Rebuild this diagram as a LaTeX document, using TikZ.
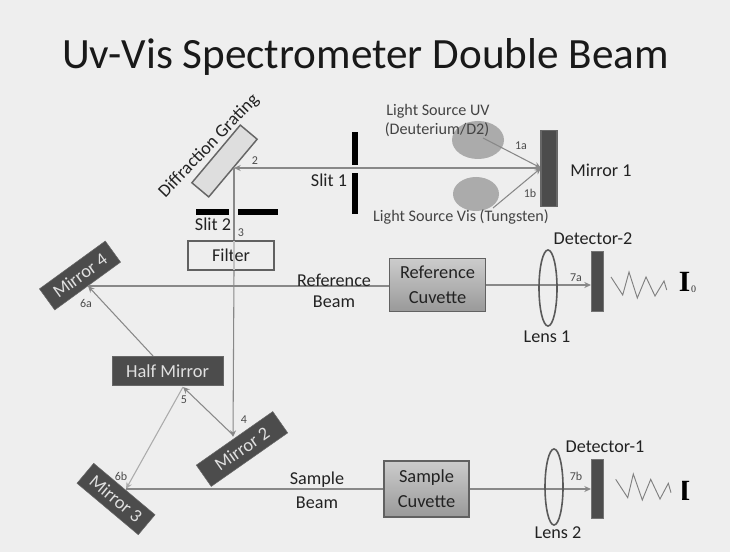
\documentclass[tikz,border=0pt]{standalone}
\usepackage{fontspec}
\setmainfont{Carlito}
\newfontfamily\serifb{Liberation Serif}
\usetikzlibrary{arrows.meta}
\definecolor{bgc}{HTML}{EEEEEE}
\definecolor{darkm}{HTML}{4C4C4C}
\definecolor{beam}{HTML}{888888}
\definecolor{txt}{HTML}{222222}
\tikzset{
 lab/.style={font=\fontsize{13.6}{15}\selectfont,text=txt,inner sep=0pt,align=center},
 labs/.style={font=\fontsize{12.1}{14}\selectfont,text=txt!85,inner sep=0pt,align=center},
 small/.style={font=\fontsize{9}{10}\selectfont,text=black!70,inner sep=0pt},
 mirror/.style={fill=darkm,draw=darkm!85,line width=.4pt,font=\fontsize{13.8}{15}\selectfont,text=white!88!black,inner sep=0pt,minimum height=19.5pt},
 detector/.style={fill=darkm,draw=black!55,line width=.8pt,inner sep=0pt,minimum width=9.5pt,minimum height=44.5pt},
 slitbar/.style={fill=black,inner sep=0pt},
 ray/.style={draw=beam,line width=.8pt,-{Stealth[length=5pt,width=4.5pt]}},
 plainray/.style={draw=beam,line width=.8pt},
 lensc/.style={draw=black!65,line width=1.2pt},
 zig/.style={draw=black!50,line width=.7pt},
 cuvette/.style={draw=black!62,line width=1.2pt,top color=black!20,bottom color=black!40,inner sep=0pt,align=center,font=\fontsize{13.8}{15.5}\selectfont,text=txt}
}
\begin{document}
\begin{tikzpicture}[x=.75pt,y=-.75pt]
\useasboundingbox (0,0) rectangle (730,552);
\fill[bgc] (0,0) rectangle (730,552);
\node[inner sep=0pt,text=black!90] (title) at (365.5,56.5) {\fontsize{32.4}{38}\selectfont Uv-Vis Spectrometer Double Beam};

% lamps
\fill[black!33] (478,140) ellipse [x radius=26,y radius=19];
\fill[black!33] (476,194) ellipse [x radius=23,y radius=17];
\coordinate (uv) at (483,138);
\coordinate (vis) at (493,208);

% named points on the mirrors
\coordinate (m1p) at (541,168);
\coordinate (gp) at (234,168);
\coordinate (m2p) at (233,437);
\coordinate (m4p) at (88,286);
\coordinate (m3p) at (126,489);
\coordinate (hbot) at (183,387);
\coordinate (htop) at (153,356);
\coordinate (d2p) at (591,285);
\coordinate (d1p) at (591,489);
\coordinate (m2q) at (233,435);

% grating
\node[draw=black!60,fill=black!13,line width=1.1pt,rotate=50,minimum width=56.5pt,minimum height=16.5pt,inner sep=0pt] (grating) at (224.5,161) {};
\node[lab,rotate=46] (gratlab) at (209,146) {Diffraction Grating};

% beams under boxes
\draw[ray] (m1p) -- (gp);
\draw[plainray] (gp) -- (234,241);
\draw[ray] (234,270) -- (m2p);
\draw[ray] (uv) -- (m1p);
\draw[ray] (vis) -- (m1p);
\draw[ray] (m2q) -- (hbot);
\draw[ray,draw=black!33] (hbot) -- (m3p);
\draw[ray] (htop) -- (m4p);

% slits
\node[slitbar,minimum width=3.8pt,minimum height=25pt] (s1a) at (355,148.5) {};
\node[slitbar,minimum width=3.8pt,minimum height=30.5pt] (s1b) at (355,193.5) {};
\node[slitbar,minimum width=25pt,minimum height=3.8pt] (s2a) at (212.5,212) {};
\node[slitbar,minimum width=30pt,minimum height=3.8pt] (s2b) at (258,212) {};
\node[lab] (slit1) at (329,180) {Slit 1};
\node[lab] (slit2) at (213,224) {Slit 2};

% filter
\node[draw=black!62,fill=bgc,line width=1.2pt,minimum width=64.5pt,minimum height=21.5pt,inner sep=0pt,lab] (filter) at (231,255.5) {Filter};
\draw[plainray,draw=beam!50] (234,241) -- (234,270);

% mirrors
\node[detector,minimum width=12pt,minimum height=57.5pt,draw=darkm!85] (m1) at (549,168.5) {};
\node[mirror,rotate=36,minimum width=61pt] (m4) at (80,275.5) {Mirror 4};
\node[mirror,minimum width=83pt,minimum height=22pt] (half) at (167.5,371) {Half Mirror};
\node[mirror,rotate=35,minimum width=70pt] (m2) at (242,449) {Mirror 2};
\node[mirror,rotate=-40,minimum width=60pt] (m3) at (116,499) {Mirror 3};

% reference and sample beams
\draw[plainray] (m4p) -- (389,286);
\draw[ray] (486,285) -- (d2p);
\draw[plainray] (m3p) -- (384,489);
\draw[ray] (469,489) -- (d1p);

% cuvettes
\node[cuvette,minimum width=72pt,minimum height=40pt] (refc) at (437.5,285) {Reference\\[3pt]Cuvette};
\node[cuvette,minimum width=63.5pt,minimum height=42pt] (samc) at (426.5,489) {Sample\\[3pt]Cuvette};

% lenses
\draw[lensc] (548,288) ellipse [x radius=9,y radius=38];
\draw[lensc] (554,487) ellipse [x radius=9,y radius=38];

% detectors
\node[detector] (d2) at (597.5,281.5) {};
\node[detector] (d1) at (597.5,489) {};

% zigzags
\draw[zig] (611,277) -- (622.7,295) -- (629,272) -- (637.3,298) -- (646,277) -- (655,296) -- (664,281) -- (666.7,290);
\draw[zig] (615.7,479.3) -- (627.7,497.7) -- (633.3,474) -- (642.3,500) -- (650.7,479.3) -- (660,499) -- (668.3,483.3) -- (671,492.7);

% labels
\node[labs] at (438,111) {Light Source UV};
\node[labs] at (437,130) {(Deuterium/D2)};
\node[labs] at (461,217) {Light Source Vis (Tungsten)};
\node[lab] at (601,170) {Mirror 1};
\node[lab] at (334,280) {Reference};
\node[lab] at (334,302) {Beam};
\node[lab] at (317,480) {Sample};
\node[lab] at (317,503) {Beam};
\node[lab] at (547,337) {Lens 1};
\node[lab] at (558,533) {Lens 2};
\node[lab] at (593,239) {Detector-2};
\node[lab] at (605,447) {Detector-1};
\node[small] at (521,146) {1a};
\node[small] at (530,193) {1b};
\node[small] at (255,161) {2};
\node[small] at (241,233) {3};
\node[small] at (244,420) {4};
\node[small] at (184,400) {5};
\node[small] at (86,303) {6a};
\node[small] at (121,476) {6b};
\node[small] at (576,278) {7a};
\node[small] at (576,476) {7b};

% intensity symbols
\node[inner sep=0pt,font=\serifb\bfseries\fontsize{22}{24}\selectfont,text=black] (i0) at (684.5,282) {I};
\node[inner sep=0pt,font=\serifb\fontsize{7.5}{9}\selectfont,text=black!80] (i0s) at (693.5,289) {0};
\begin{scope}
\clip (682.5,470) rectangle (700,510);
\node[inner sep=0pt,font=\serifb\bfseries\fontsize{22}{24}\selectfont,text=black] (i1) at (684.5,490.5) {I};
\end{scope}
\end{tikzpicture}
\end{document}
